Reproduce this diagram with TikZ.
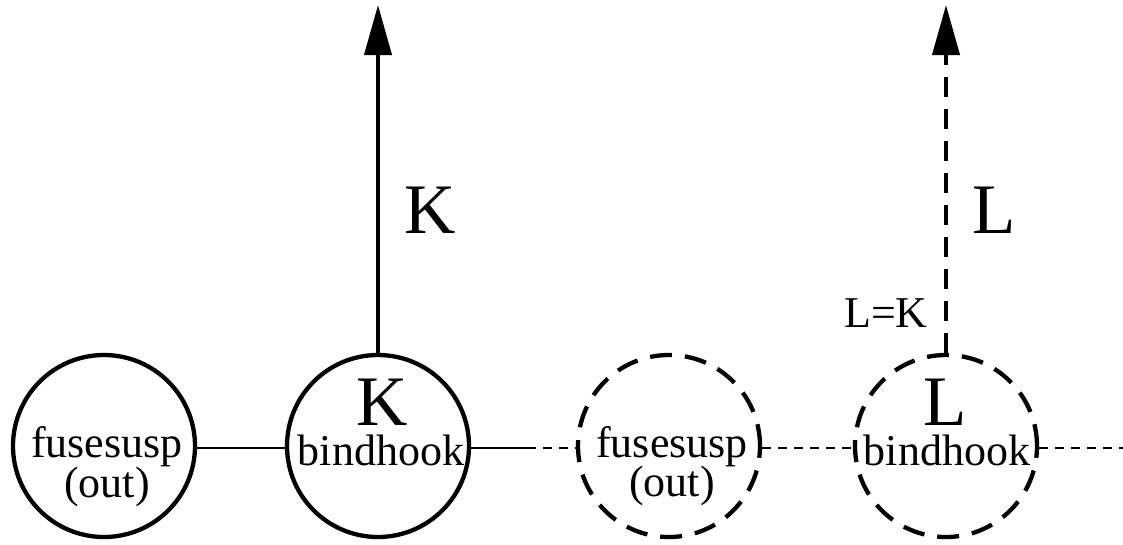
\documentclass[tikz,border=0pt]{standalone}
\usepackage{fontspec}
\setmainfont{Liberation Serif}
\usetikzlibrary{arrows.meta}
\begin{document}
\begin{tikzpicture}[x=1pt,y=-1pt,
  ring/.style={circle,draw,line width=4.3pt,minimum size=182pt,inner sep=0pt},
  dring/.style={ring,dash pattern=on 22pt off 13pt},
  small/.style={anchor=base,inner sep=0pt,font=\fontsize{44}{44}\selectfont},
  big/.style={anchor=base,inner sep=0pt,font=\fontsize{71}{71}\selectfont},
  link/.style={line width=1.3pt},
  dlink/.style={link,dash pattern=on 9pt off 7pt},
  up/.style={line width=4pt,-{Triangle[length=50pt,width=27pt]}},
  dup/.style={up,dash pattern=on 20pt off 12pt}]
\useasboundingbox (0,0) rectangle (1123,544);
\node[ring] (c1) at (104,446) {};
\node[ring] (c2) at (378,446) {};
\node[dring] (c3) at (669,446) {};
\node[dring] (c4) at (946,446) {};
% texts
\node[small] (t1a) at (107,457) {fusesusp};
\node[small] (t1b) at (107,497) {(out)};
\node[big] (t2a) at (382,425) {K};
\node[small] (t2b) at (381,465) {bindhook};
\node[small] (t3a) at (672,457) {fusesusp};
\node[small] (t3b) at (672,496) {(out)};
\node[big] (t4a) at (945,425) {L};
\node[small] (t4b) at (947,465) {bindhook};
% arrows
\coordinate (a1) at (378,5);
\coordinate (a2) at (946,5);
\draw[up] (c2.north) -- (a1);
\draw[dup] (c4.north) -- (a2);
\node[big] (lk) at (430,233) {K};
\node[big] (ll) at (994,233) {L};
\node[small] (lek) at (886,327) {L=K};
% connectors
\coordinate (m) at (527,448);
\coordinate (e) at (1123,448);
\draw[link] (c1.east |- 0,448) -- (c2.west |- 0,448);
\draw[link] (c2.east |- 0,448) -- (m);
\draw[dlink] (m) -- (c3.west |- 0,448);
\draw[dlink] (c3.east |- 0,448) -- (c4.west |- 0,448);
\draw[dlink] (c4.east |- 0,448) -- (e);
\end{tikzpicture}
\end{document}
